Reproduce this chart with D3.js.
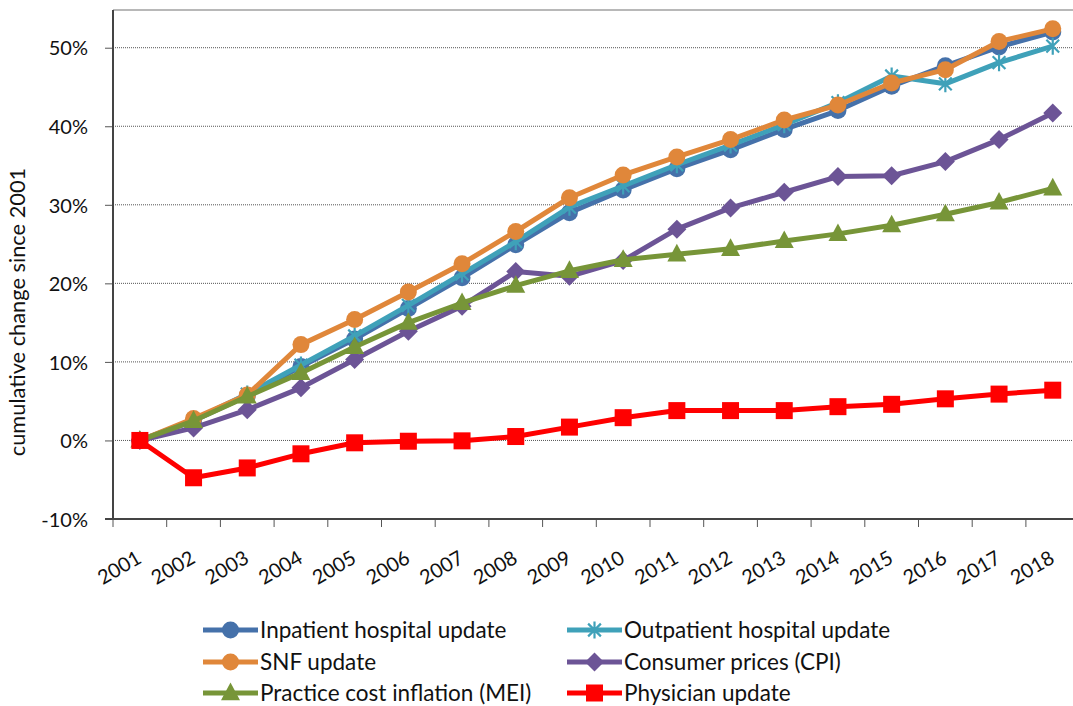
<!DOCTYPE html>
<html>
<head>
<meta charset="utf-8">
<script src="https://cdn.jsdelivr.net/npm/d3@7"></script>
<style>
  html, body { margin: 0; padding: 0; background: #fff; }
  svg { display: block; font-family: Lato, "Open Sans", sans-serif; }
</style>
</head>
<body>
<svg id="chart" width="1073" height="706"></svg>
<script>
const years = ["2001","2002","2003","2004","2005","2006","2007","2008","2009","2010","2011","2012","2013","2014","2015","2016","2017","2018"];
const yTicks = [-10, 0, 10, 20, 30, 40, 50];

const inpatient  = [0, 2.5, 5.7, 9.4, 12.9, 16.8, 20.7, 24.9, 29.0, 31.9, 34.6, 37.0, 39.6, 42.0, 45.1, 47.7, 50.1, 52.0];
const outpatient = [0, 2.6, 5.9, 9.6, 13.3, 17.2, 21.2, 25.3, 29.7, 32.4, 35.1, 37.6, 40.2, 43.0, 46.4, 45.4, 48.1, 50.2];
const snf        = [0, 2.8, 5.8, 12.2, 15.4, 18.9, 22.5, 26.6, 30.9, 33.8, 36.1, 38.3, 40.8, 42.7, 45.5, 47.2, 50.8, 52.4];
const cpi        = [0, 1.6, 3.9, 6.7, 10.3, 13.9, 17.1, 21.5, 20.9, 22.9, 26.9, 29.6, 31.6, 33.6, 33.7, 35.5, 38.3, 41.7];
const mei        = [0, 2.5, 5.6, 8.6, 11.9, 15.0, 17.5, 19.7, 21.6, 23.0, 23.7, 24.4, 25.4, 26.3, 27.4, 28.8, 30.3, 32.1];
const physician  = [0, -4.75, -3.5, -1.7, -0.3, -0.1, -0.05, 0.5, 1.7, 2.9, 3.8, 3.8, 3.8, 4.3, 4.6, 5.3, 5.9, 6.4];

const seriesNames = ["Inpatient hospital update", "Outpatient hospital update", "SNF update", "Consumer prices (CPI)", "Practice cost inflation (MEI)", "Physician update"];
const seriesValues = [inpatient, outpatient, snf, cpi, mei, physician];
const seriesColors = ["#4571aa", "#3fa1b9", "#e0873a", "#6c5496", "#779538", "#ff0000"];
const seriesMarkers = ["circle", "asterisk", "circle", "diamond", "triangle", "square"];

const svg = d3.select("#chart");
const plotLeft = 113, plotTop = 10, plotBottom = 519, bandW = 53.7;
const x = d3.scaleBand().domain(years).range([plotLeft, plotLeft + bandW * years.length]).paddingInner(0).paddingOuter(0);
const y = d3.scaleLinear().domain([-10, 54.8]).range([plotBottom, plotTop]);

// gridlines
svg.append("g").selectAll("line").data(yTicks.filter(d => d > -10)).join("line")
  .attr("x1", plotLeft).attr("x2", 1073)
  .attr("y1", d => y(d)).attr("y2", d => y(d))
  .attr("stroke", "#555").attr("stroke-width", 1).attr("stroke-dasharray", "1,1");

// top border
svg.append("line").attr("x1", plotLeft).attr("x2", 1073).attr("y1", plotTop).attr("y2", plotTop)
  .attr("stroke", "#a0a0a0").attr("stroke-width", 1.5);

// y axis
const yAxis = d3.axisLeft(y).tickValues(yTicks).tickSize(8).tickFormat(d => d + "%");
const gy = svg.append("g").attr("transform", `translate(${plotLeft},0)`).call(yAxis);
gy.select(".domain").remove();
gy.selectAll(".tick line").attr("stroke", "#555").attr("stroke-width", 1);
gy.selectAll(".tick text").attr("font-size", 20).attr("fill", "#111").attr("x", -25).attr("dy", "0.36em")
  .style("font-family", "Lato, 'Open Sans', sans-serif");
svg.append("line").attr("x1", plotLeft).attr("x2", plotLeft).attr("y1", plotTop).attr("y2", plotBottom)
  .attr("stroke", "#444").attr("stroke-width", 2);

// x axis
const xTickPos = years.map(d => x(d));
svg.append("g").selectAll("line").data(xTickPos).join("line")
  .attr("x1", d => d).attr("x2", d => d).attr("y1", plotBottom).attr("y2", plotBottom + 8)
  .attr("stroke", "#555").attr("stroke-width", 1);
svg.append("line").attr("x1", plotLeft - 8).attr("x2", 1073).attr("y1", plotBottom).attr("y2", plotBottom)
  .attr("stroke", "#444").attr("stroke-width", 2);
svg.append("g").selectAll("text").data(years).join("text")
  .attr("transform", d => `translate(${x(d) + x.bandwidth() / 2 + 3},562) rotate(-30)`)
  .attr("text-anchor", "end").attr("font-size", 20).attr("fill", "#111").text(d => d);

// y title
svg.append("text").attr("transform", "translate(25,312) rotate(-90)")
  .attr("text-anchor", "middle").attr("font-size", 21.8).attr("fill", "#111")
  .text("cumulative change since 2001");

// marker drawing
function drawMarker(g, type, color, cx, cy, scale) {
  const s = scale || 1;
  if (type === "circle") {
    g.append("circle").attr("cx", cx).attr("cy", cy).attr("r", 8.5 * s).attr("fill", color);
  } else if (type === "square") {
    g.append("rect").attr("x", cx - 8.5 * s).attr("y", cy - 8.5 * s).attr("width", 17 * s).attr("height", 17 * s).attr("fill", color);
  } else if (type === "diamond") {
    const r = 9.5 * s;
    g.append("path").attr("d", `M${cx},${cy - r}L${cx + r},${cy}L${cx},${cy + r}L${cx - r},${cy}Z`).attr("fill", color);
  } else if (type === "triangle") {
    const r = 9.5 * s;
    g.append("path").attr("d", `M${cx},${cy - r * 1.1}L${cx + r},${cy + r * 0.75}L${cx - r},${cy + r * 0.75}Z`).attr("fill", color);
  } else if (type === "asterisk") {
    const r = 8.5 * s, d = r * 0.75;
    g.append("path").attr("d", `M${cx},${cy - r}L${cx},${cy + r}M${cx - d},${cy - d}L${cx + d},${cy + d}M${cx + d},${cy - d}L${cx - d},${cy + d}`)
      .attr("stroke", color).attr("stroke-width", 2.2).attr("fill", "none");
  }
}

const line = d3.line().x((d, i) => x(years[i]) + x.bandwidth() / 2).y(d => y(d));
seriesValues.forEach((vals, si) => {
  const g = svg.append("g");
  g.append("path").datum(vals).attr("d", line).attr("fill", "none")
    .attr("stroke", seriesColors[si]).attr("stroke-width", 5).attr("stroke-linejoin", "round");
  vals.forEach((v, i) => drawMarker(g, seriesMarkers[si], seriesColors[si], x(years[i]) + x.bandwidth() / 2, y(v)));
});

// legend
const legX = [203, 567], legY = [630, 662, 693];
seriesNames.forEach((name, i) => {
  const col = i % 2, row = Math.floor(i / 2);
  const lx = legX[col], ly = legY[row];
  const g = svg.append("g");
  g.append("line").attr("x1", lx).attr("x2", lx + 55).attr("y1", ly).attr("y2", ly)
    .attr("stroke", seriesColors[i]).attr("stroke-width", 5);
  drawMarker(g, seriesMarkers[i], seriesColors[i], lx + 27.5, ly, 1);
  g.append("text").attr("x", lx + 57).attr("y", ly).attr("dy", "0.34em")
    .attr("font-size", 22.5).attr("fill", "#111").text(name);
});
</script>
</body>
</html>
